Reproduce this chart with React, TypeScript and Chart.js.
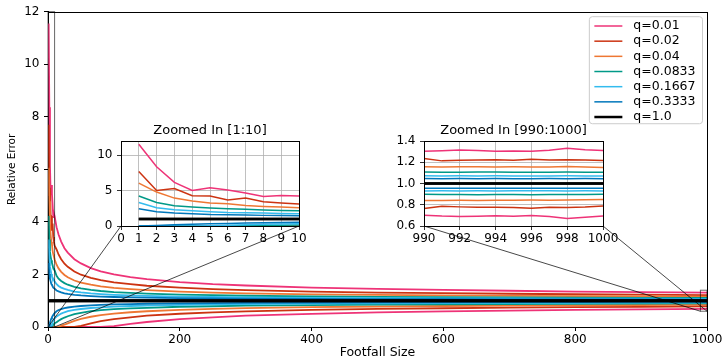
import React, { useEffect, useRef } from 'react';
import { Chart, registerables } from 'chart.js';

Chart.register(...registerables);

const FONT = "'DejaVu Sans', 'Liberation Sans', sans-serif";

// ---- categories / legend ----
const qLabels = ['q=0.01', 'q=0.02', 'q=0.04', 'q=0.0833', 'q=0.1667', 'q=0.3333', 'q=1.0'];
const qColors = ['#EE3377', '#CC3311', '#EE7733', '#009988', '#33BBEE', '#0077BB', '#000000'];

// ---- main x values (footfall size) ----
const footfall = [1, 2, 3, 4, 5, 6, 7, 8, 9, 10, 13, 16, 20, 25, 30, 40, 50, 65, 80, 100, 125, 150, 200, 250, 300, 400, 500, 600, 700, 800, 900, 1000];

// ---- upper / lower relative error curves ----
const upper001 = [11.55, 8.36, 6.15, 5.02, 5.4, 5.07, 4.65, 4.18, 4.32, 4.22, 3.8, 3.52, 3.25, 3.0, 2.83, 2.58, 2.42, 2.24, 2.12, 2.0, 1.9, 1.82, 1.71, 1.63, 1.58, 1.5, 1.45, 1.41, 1.38, 1.35, 1.33, 1.31];
const lower001 = [0, 0, 0, 0, 0, 0, 0, 0, 0, 0, 0, 0, 0, 0, 0, 0, 0, 0, 0, 0.03, 0.12, 0.19, 0.3, 0.37, 0.43, 0.5, 0.555, 0.595, 0.625, 0.648, 0.668, 0.693];
const upper002 = [7.7, 5.02, 5.3, 4.27, 4.22, 3.66, 3.94, 3.43, 3.24, 3.1, 2.95, 2.76, 2.58, 2.41, 2.29, 2.11, 1.99, 1.87, 1.78, 1.7, 1.63, 1.57, 1.5, 1.44, 1.4, 1.35, 1.31, 1.29, 1.265, 1.247, 1.233, 1.216];
const lower002 = [0, 0, 0, 0, 0, 0, 0, 0, 0, 0, 0, 0, 0, 0, 0, 0, 0.04, 0.14, 0.22, 0.3, 0.37, 0.43, 0.505, 0.557, 0.596, 0.65, 0.687, 0.714, 0.735, 0.753, 0.767, 0.789];
const upper004 = [6.06, 4.79, 3.94, 3.52, 3.24, 3.15, 2.91, 2.77, 2.68, 2.58, 2.37, 2.23, 2.1, 1.98, 1.89, 1.77, 1.69, 1.61, 1.55, 1.49, 1.44, 1.4, 1.346, 1.31, 1.283, 1.245, 1.219, 1.2, 1.185, 1.173, 1.163, 1.151];
const lower004 = [0, 0, 0, 0, 0, 0, 0, 0, 0, 0, 0, 0, 0.05, 0.09, 0.14, 0.23, 0.31, 0.39, 0.45, 0.51, 0.562, 0.6, 0.654, 0.69, 0.717, 0.755, 0.781, 0.8, 0.815, 0.827, 0.837, 0.849];
const upper0083 = [4.23, 3.33, 2.86, 2.68, 2.54, 2.44, 2.35, 2.25, 2.2, 2.16, 1.95, 1.84, 1.75, 1.67, 1.61, 1.53, 1.47, 1.41, 1.37, 1.33, 1.3, 1.27, 1.235, 1.21, 1.19, 1.166, 1.148, 1.135, 1.125, 1.117, 1.11, 1.106];
const lower0083 = [0, 0, 0, 0, 0, 0.02, 0.05, 0.08, 0.11, 0.14, 0.18, 0.24, 0.3, 0.36, 0.41, 0.49, 0.54, 0.6, 0.64, 0.68, 0.71, 0.73, 0.77, 0.79, 0.81, 0.835, 0.852, 0.865, 0.875, 0.883, 0.89, 0.898];
const upper0167 = [3.33, 2.58, 2.3, 2.16, 2.02, 1.92, 1.88, 1.83, 1.78, 1.74, 1.63, 1.56, 1.5, 1.45, 1.41, 1.35, 1.316, 1.277, 1.25, 1.224, 1.2, 1.183, 1.158, 1.141, 1.129, 1.112, 1.1, 1.091, 1.085, 1.079, 1.075, 1.071];
const lower0167 = [0, 0, 0, 0, 0.05, 0.12, 0.18, 0.24, 0.29, 0.33, 0.4, 0.45, 0.51, 0.56, 0.6, 0.65, 0.685, 0.723, 0.75, 0.776, 0.8, 0.817, 0.842, 0.859, 0.871, 0.888, 0.9, 0.909, 0.915, 0.921, 0.925, 0.93];
const upper0333 = [2.44, 2.02, 1.83, 1.74, 1.64, 1.6, 1.55, 1.5, 1.5, 1.46, 1.39, 1.355, 1.316, 1.283, 1.258, 1.224, 1.2, 1.175, 1.158, 1.141, 1.126, 1.115, 1.1, 1.089, 1.082, 1.071, 1.063, 1.058, 1.053, 1.05, 1.047, 1.045];
const lower0333 = [0, 0.08, 0.17, 0.25, 0.32, 0.37, 0.42, 0.46, 0.5, 0.53, 0.6, 0.645, 0.684, 0.717, 0.742, 0.776, 0.8, 0.825, 0.842, 0.859, 0.874, 0.885, 0.9, 0.911, 0.918, 0.929, 0.937, 0.942, 0.947, 0.95, 0.953, 0.955];
const upper1 = [1, 1, 1, 1, 1, 1, 1, 1, 1, 1, 1, 1, 1, 1, 1, 1, 1, 1, 1, 1, 1, 1, 1, 1, 1, 1, 1, 1, 1, 1, 1, 1];
const lower1 = [1, 1, 1, 1, 1, 1, 1, 1, 1, 1, 1, 1, 1, 1, 1, 1, 1, 1, 1, 1, 1, 1, 1, 1, 1, 1, 1, 1, 1, 1, 1, 1];

// ---- tail (990..1000) values for the second inset ----
const tailFootfall = [990, 991, 992, 993, 994, 995, 996, 997, 998, 999, 1000];
const tailUpper001 = [1.303, 1.308, 1.316, 1.31, 1.303, 1.306, 1.303, 1.314, 1.331, 1.318, 1.31];
const tailLower001 = [0.702, 0.693, 0.69, 0.692, 0.696, 0.691, 0.699, 0.69, 0.671, 0.683, 0.693];
const tailUpper002 = [1.235, 1.213, 1.219, 1.221, 1.224, 1.218, 1.229, 1.222, 1.224, 1.221, 1.216];
const tailLower002 = [0.764, 0.786, 0.78, 0.776, 0.777, 0.774, 0.768, 0.777, 0.775, 0.779, 0.789];
const tailUpper004 = [1.158, 1.156, 1.157, 1.158, 1.156, 1.157, 1.155, 1.156, 1.159, 1.155, 1.151];
const tailLower004 = [0.839, 0.841, 0.842, 0.841, 0.843, 0.842, 0.844, 0.843, 0.844, 0.846, 0.849];
const tailUpper0083 = [1.108, 1.107, 1.107, 1.109, 1.108, 1.107, 1.106, 1.107, 1.108, 1.107, 1.106];
const tailLower0083 = [0.898, 0.896, 0.897, 0.895, 0.896, 0.897, 0.895, 0.897, 0.896, 0.897, 0.898];
const tailUpper0167 = [1.072, 1.071, 1.072, 1.071, 1.072, 1.071, 1.07, 1.071, 1.072, 1.071, 1.071];
const tailLower0167 = [0.93, 0.931, 0.93, 0.931, 0.93, 0.931, 0.932, 0.931, 0.93, 0.931, 0.93];
const tailUpper0333 = [1.046, 1.045, 1.046, 1.045, 1.046, 1.045, 1.045, 1.046, 1.045, 1.046, 1.045];
const tailLower0333 = [0.955, 0.956, 0.955, 0.956, 0.955, 0.955, 0.956, 0.955, 0.956, 0.955, 0.955];
const tailUpper1 = [1, 1, 1, 1, 1, 1, 1, 1, 1, 1, 1];
const tailLower1 = [1, 1, 1, 1, 1, 1, 1, 1, 1, 1, 1];

// ---- tick labels ----
const mainXTicks = [0, 200, 400, 600, 800, 1000];
const mainYTicks = [0, 2, 4, 6, 8, 10, 12];
const inset1XTicks = [0, 1, 2, 3, 4, 5, 6, 7, 8, 9, 10];
const inset1YTicks = [0, 5, 10];
const inset2XTicks = [990, 992, 994, 996, 998, 1000];
const inset2YTicks = [0.6, 0.8, 1.0, 1.2, 1.4];

const series = [
  { label: qLabels[0], color: qColors[0], upper: upper001, lower: lower001, tailUpper: tailUpper001, tailLower: tailLower001, width: 1.5 },
  { label: qLabels[1], color: qColors[1], upper: upper002, lower: lower002, tailUpper: tailUpper002, tailLower: tailLower002, width: 1.5 },
  { label: qLabels[2], color: qColors[2], upper: upper004, lower: lower004, tailUpper: tailUpper004, tailLower: tailLower004, width: 1.5 },
  { label: qLabels[3], color: qColors[3], upper: upper0083, lower: lower0083, tailUpper: tailUpper0083, tailLower: tailLower0083, width: 1.5 },
  { label: qLabels[4], color: qColors[4], upper: upper0167, lower: lower0167, tailUpper: tailUpper0167, tailLower: tailLower0167, width: 1.5 },
  { label: qLabels[5], color: qColors[5], upper: upper0333, lower: lower0333, tailUpper: tailUpper0333, tailLower: tailLower0333, width: 1.5 },
  { label: qLabels[6], color: qColors[6], upper: upper1, lower: lower1, tailUpper: tailUpper1, tailLower: tailLower1, width: 2.5 },
];

// inset placement (canvas boxes in page pixels)
const INSET1 = { left: 80, top: 118, width: 240, height: 130 };
const INSET2 = { left: 380, top: 118, width: 250, height: 130 };

function buildDatasets(xs: number[], key: 'main' | 'tail', widthScale: number, filter?: (x: number) => boolean) {
  const out: any[] = [];
  series.forEach((s, i) => {
    const up = key === 'main' ? s.upper : s.tailUpper;
    const lo = key === 'main' ? s.lower : s.tailLower;
    const mk = (arr: number[]) =>
      xs.map((x, j) => ({ x, y: arr[j] })).filter((p) => (filter ? filter(p.x) : true));
    const w = s.width * widthScale;
    out.push({
      label: s.label,
      legend: true,
      data: mk(up),
      borderColor: s.color,
      backgroundColor: s.color,
      borderWidth: w,
      pointRadius: 0,
      tension: 0,
      fill: false,
      order: 100 - i * 2,
    });
    out.push({
      label: s.label + ' (lower)',
      legend: false,
      data: mk(lo),
      borderColor: s.color,
      backgroundColor: s.color,
      borderWidth: w,
      pointRadius: 0,
      tension: 0,
      fill: false,
      order: 100 - i * 2 - 1,
    });
  });
  return out;
}

function fixedTicks(values: number[]) {
  return (scale: any) => {
    scale.ticks = values.map((v) => ({ value: v }));
  };
}

function insetOptions(xMin: number, xMax: number, yMin: number, yMax: number, xt: number[], yt: number[], yw: number, padR: number, yFmt: (v: number) => string) {
  return {
    animation: false,
    responsive: false,
    events: [],
    layout: { padding: { left: 0, right: padR, top: 23, bottom: 0 } },
    plugins: { legend: { display: false }, tooltip: { enabled: false }, title: { display: false } },
    scales: {
      x: {
        type: 'linear',
        min: xMin,
        max: xMax,
        afterBuildTicks: fixedTicks(xt),
        afterFit: (s: any) => { s.height = 22; },
        ticks: { color: '#000', font: { family: FONT, size: 12 }, padding: 2, autoSkip: false, maxRotation: 0, callback: (v: any) => String(v) },
        grid: { display: true, drawOnChartArea: true, color: '#b0b0b0', lineWidth: 0.8, tickLength: 4, tickColor: '#000' },
        border: { display: true, color: '#000', width: 1 },
      },
      y: {
        type: 'linear',
        min: yMin,
        max: yMax,
        afterBuildTicks: fixedTicks(yt),
        afterFit: (s: any) => { s.width = yw; },
        ticks: { color: '#000', font: { family: FONT, size: 12 }, padding: 4.5, autoSkip: false, callback: (v: any) => yFmt(Number(v)) },
        grid: { display: true, drawOnChartArea: true, color: '#b0b0b0', lineWidth: 0.8, tickLength: 4, tickColor: '#000' },
        border: { display: true, color: '#000', width: 1 },
      },
    },
  };
}

function insetDecor(title: string) {
  return {
    id: 'insetDecor',
    beforeDraw(chart: any) {
      const { ctx, chartArea: ca } = chart;
      ctx.save();
      ctx.fillStyle = '#ffffff';
      ctx.fillRect(ca.left, ca.top, ca.right - ca.left, ca.bottom - ca.top);
      ctx.restore();
    },
    afterDraw(chart: any) {
      const { ctx, chartArea: ca } = chart;
      ctx.save();
      ctx.strokeStyle = '#000';
      ctx.lineWidth = 1;
      ctx.strokeRect(Math.round(ca.left) + 0.5, Math.round(ca.top) + 0.5, Math.round(ca.right - ca.left), Math.round(ca.bottom - ca.top));
      ctx.fillStyle = '#000';
      ctx.font = `13px ${FONT}`;
      ctx.textAlign = 'center';
      ctx.textBaseline = 'middle';
      ctx.fillText(title, (ca.left + ca.right) / 2, ca.top - 10);
      ctx.restore();
    },
  };
}

export default function App() {
  const mainRef = useRef<HTMLCanvasElement>(null);
  const in1Ref = useRef<HTMLCanvasElement>(null);
  const in2Ref = useRef<HTMLCanvasElement>(null);

  useEffect(() => {
    if (!mainRef.current || !in1Ref.current || !in2Ref.current) return;

    const inset1 = new Chart(in1Ref.current, {
      type: 'line',
      data: { datasets: buildDatasets(footfall, 'main', 1, (x) => x <= 10) },
      options: insetOptions(0, 10, 0, 12, inset1XTicks, inset1YTicks, 41, 21, (v) => String(v)) as any,
      plugins: [insetDecor('Zoomed In [1:10]')],
    } as any);

    const inset2 = new Chart(in2Ref.current, {
      type: 'line',
      data: { datasets: buildDatasets(tailFootfall, 'tail', 1) },
      options: insetOptions(990, 1000, 0.6, 1.4, inset2XTicks, inset2YTicks, 44, 27, (v) => v.toFixed(1)) as any,
      plugins: [insetDecor('Zoomed In [990:1000]')],
    } as any);

    const zoomBoxes = [
      { x0: 0, x1: 10, y0: 0, y1: 12, chart: inset1, off: INSET1 },
      { x0: 990, x1: 1000, y0: 0.6, y1: 1.4, chart: inset2, off: INSET2 },
    ];

    const mainOverlay = {
      id: 'mainOverlay',
      beforeDatasetsDraw(chart: any) {
        const { ctx, chartArea: ca } = chart;
        ctx.save();
        ctx.strokeStyle = '#000';
        ctx.lineWidth = 1;
        ctx.strokeRect(Math.round(ca.left) + 0.5, Math.round(ca.top) + 0.5, Math.round(ca.right - ca.left), Math.round(ca.bottom - ca.top));
        ctx.restore();
      },
      afterDatasetsDraw(chart: any) {
        const { ctx, scales } = chart;
        const xs = scales.x;
        const ys = scales.y;
        ctx.save();
        zoomBoxes.forEach((b) => {
          const l = xs.getPixelForValue(b.x0);
          const r = xs.getPixelForValue(b.x1);
          const t = ys.getPixelForValue(b.y1);
          const bt = ys.getPixelForValue(b.y0);
          ctx.strokeStyle = 'rgba(0,0,0,0.6)';
          ctx.lineWidth = 1;
          ctx.strokeRect(l, t, r - l, bt - t);
          const ica = b.chart.chartArea;
          ctx.strokeStyle = 'rgba(0,0,0,0.72)';
          ctx.beginPath();
          ctx.moveTo(b.off.left + ica.left, b.off.top + ica.bottom);
          ctx.lineTo(l, bt);
          ctx.moveTo(b.off.left + ica.right, b.off.top + ica.bottom);
          ctx.lineTo(r, bt);
          ctx.stroke();
        });
        ctx.restore();
      },
      afterDraw(chart: any) {
        const { ctx, chartArea: ca } = chart;
        const entries = chart.data.datasets.filter((d: any) => d.legend);
        ctx.save();
        ctx.font = `12.5px ${FONT}`;
        const maxW = Math.max(...entries.map((e: any) => ctx.measureText(e.label).width));
        const rowH = 15.17;
        const boxW = 5 + 28 + 11 + maxW + 7;
        const boxH = 9.3 + (entries.length - 1) * rowH + 6.7;
        const right = ca.right - 4.5;
        const left = right - boxW;
        const top = ca.top + 5;
        ctx.beginPath();
        if (ctx.roundRect) ctx.roundRect(left, top, boxW, boxH, 3);
        else ctx.rect(left, top, boxW, boxH);
        ctx.fillStyle = 'rgba(255,255,255,0.8)';
        ctx.fill();
        ctx.strokeStyle = '#cccccc';
        ctx.lineWidth = 1;
        ctx.stroke();
        entries.forEach((e: any, i: number) => {
          const cy = top + 9.3 + i * rowH;
          ctx.strokeStyle = e.borderColor;
          ctx.lineWidth = e.borderColor === '#000000' ? 2.5 : 1.5;
          ctx.beginPath();
          ctx.moveTo(left + 5, cy);
          ctx.lineTo(left + 33, cy);
          ctx.stroke();
          ctx.fillStyle = '#000';
          ctx.textAlign = 'left';
          ctx.textBaseline = 'middle';
          ctx.fillText(e.label, left + 44, cy);
        });
        ctx.restore();
      },
    };

    const xAxis: any = {
      type: 'linear',
      min: 0,
      max: 1000,
      afterBuildTicks: fixedTicks(mainXTicks),
      afterFit: (s: any) => { s.height = 34; },
      ticks: { color: '#000', font: { family: FONT, size: 12 }, padding: 2, autoSkip: false, maxRotation: 0, callback: (v: any) => String(v) },
      grid: { display: true, drawOnChartArea: false, tickLength: 4, tickColor: '#000', color: '#000' },
      border: { display: true, color: '#000', width: 1 },
      title: { display: true, text: 'Footfall Size', color: '#000', font: { family: FONT, size: 12.5 }, padding: { top: 0, bottom: 0.5 } },
    };

    const yAxis: any = {
      type: 'linear',
      min: 0,
      max: 12,
      afterBuildTicks: fixedTicks(mainYTicks),
      afterFit: (s: any) => { s.width = 48; },
      ticks: { color: '#000', font: { family: FONT, size: 12 }, padding: 4.5, autoSkip: false, callback: (v: any) => String(v) },
      grid: { display: true, drawOnChartArea: false, tickLength: 4, tickColor: '#000', color: '#000' },
      border: { display: true, color: '#000', width: 1 },
      title: { display: true, text: 'Relative Error', color: '#000', font: { family: FONT, size: 10.5 }, padding: { top: 6, bottom: 0 } },
    };

    const main = new Chart(mainRef.current, {
      type: 'line',
      data: { datasets: buildDatasets(footfall, 'main', 1.2) },
      options: {
        animation: false,
        responsive: false,
        events: [],
        layout: { padding: { left: 0, right: 19, top: 9, bottom: 0 } },
        plugins: { legend: { display: false }, tooltip: { enabled: false }, title: { display: false } },
        scales: { x: xAxis, y: yAxis },
      },
      plugins: [mainOverlay],
    } as any);

    return () => {
      main.destroy();
      inset1.destroy();
      inset2.destroy();
    };
  }, []);

  const abs = (b: { left: number; top: number; width: number; height: number }) => ({
    position: 'absolute' as const,
    left: b.left,
    top: b.top,
    width: b.width,
    height: b.height,
  });

  return (
    <div style={{ position: 'fixed', left: 0, top: 0, width: 726, height: 361, background: '#fff' }}>
      <canvas ref={mainRef} width={726} height={361} style={abs({ left: 0, top: 0, width: 726, height: 361 })} />
      <canvas ref={in1Ref} width={INSET1.width} height={INSET1.height} style={abs(INSET1)} />
      <canvas ref={in2Ref} width={INSET2.width} height={INSET2.height} style={abs(INSET2)} />
    </div>
  );
}
